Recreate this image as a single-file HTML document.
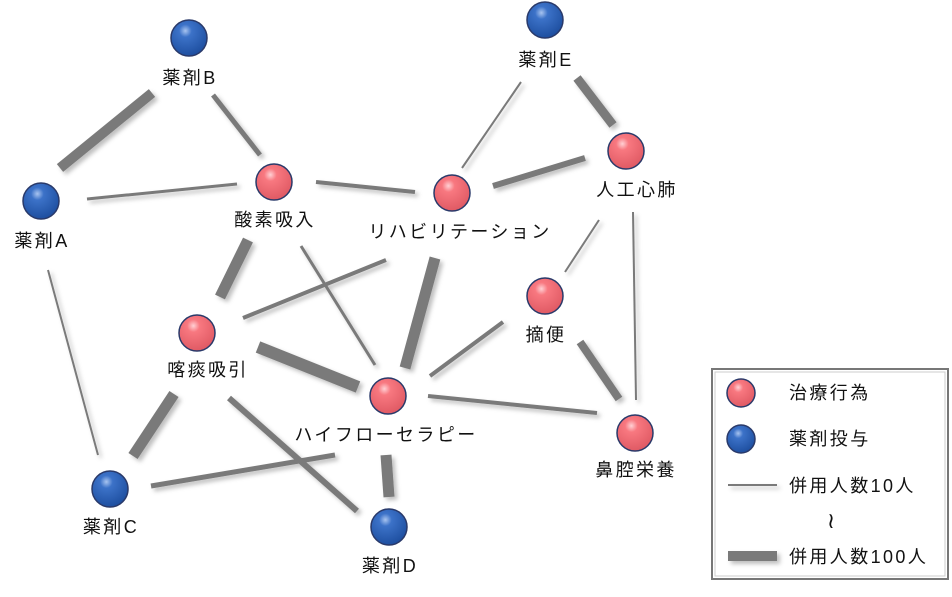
<!DOCTYPE html>
<html><head><meta charset="utf-8"><style>
body{margin:0;background:#fff;width:952px;height:592px;overflow:hidden}
text{font-family:"Liberation Sans","Noto Sans CJK JP",sans-serif;font-size:18px;letter-spacing:2.4px;fill:#111;text-anchor:middle}
</style></head><body>
<svg width="952" height="592" xmlns="http://www.w3.org/2000/svg">
<defs>
<radialGradient id="r" cx="40%" cy="30%" r="70%"><stop offset="0" stop-color="#ffd0d4"/><stop offset="0.25" stop-color="#f87880"/><stop offset="1" stop-color="#e05a64"/></radialGradient>
<radialGradient id="b" cx="40%" cy="30%" r="70%"><stop offset="0" stop-color="#a8c4f0"/><stop offset="0.25" stop-color="#3c72c8"/><stop offset="1" stop-color="#1e4fa0"/></radialGradient>
<filter id="s" x="-20%" y="-20%" width="140%" height="140%"><feDropShadow dx="3" dy="3" stdDeviation="2" flood-color="#000" flood-opacity="0.25"/></filter>
</defs>
<g stroke="#7a7a7a" stroke-linecap="butt" filter="url(#s)">
<line x1="152" y1="93" x2="60" y2="168" stroke-width="10"/>
<line x1="213" y1="95" x2="260" y2="155" stroke-width="5"/>
<line x1="87" y1="199" x2="237" y2="184" stroke-width="3"/>
<line x1="316" y1="182" x2="415" y2="192" stroke-width="4"/>
<line x1="521" y1="82" x2="462" y2="168" stroke-width="2"/>
<line x1="577" y1="78" x2="613" y2="125" stroke-width="9"/>
<line x1="493" y1="186" x2="585" y2="158" stroke-width="6"/>
<line x1="599" y1="220" x2="565" y2="272" stroke-width="2"/>
<line x1="633" y1="212" x2="636" y2="400" stroke-width="2"/>
<line x1="248" y1="240" x2="220" y2="297" stroke-width="11"/>
<line x1="301" y1="246" x2="375" y2="365" stroke-width="3"/>
<line x1="386" y1="260" x2="243" y2="318" stroke-width="4"/>
<line x1="435" y1="258" x2="405" y2="368" stroke-width="11"/>
<line x1="48" y1="270" x2="98" y2="455" stroke-width="2"/>
<line x1="258" y1="347" x2="358" y2="387" stroke-width="12"/>
<line x1="174" y1="394" x2="133" y2="456" stroke-width="11"/>
<line x1="229" y1="398" x2="357" y2="511" stroke-width="6"/>
<line x1="503" y1="322" x2="430" y2="376" stroke-width="4"/>
<line x1="580" y1="342" x2="619" y2="399" stroke-width="8"/>
<line x1="428" y1="396" x2="597" y2="413" stroke-width="4"/>
<line x1="335" y1="455" x2="151" y2="486" stroke-width="5"/>
<line x1="386" y1="455" x2="389" y2="497" stroke-width="11"/>
</g>
<g stroke="#2a3a6a" stroke-width="1.5">
<circle cx="189" cy="38" r="18" fill="url(#b)"/>
<circle cx="545" cy="20" r="18" fill="url(#b)"/>
<circle cx="41" cy="201" r="18" fill="url(#b)"/>
<circle cx="110" cy="489" r="18" fill="url(#b)"/>
<circle cx="389" cy="527" r="18" fill="url(#b)"/>
<circle cx="274" cy="182" r="18" fill="url(#r)"/>
<circle cx="452" cy="193" r="18" fill="url(#r)"/>
<circle cx="626" cy="151" r="18" fill="url(#r)"/>
<circle cx="545" cy="296" r="18" fill="url(#r)"/>
<circle cx="197" cy="333" r="18" fill="url(#r)"/>
<circle cx="388" cy="396" r="18" fill="url(#r)"/>
<circle cx="635" cy="433" r="18" fill="url(#r)"/>
</g>
<text x="190" y="84">薬剤B</text>
<text x="546" y="66">薬剤E</text>
<text x="42" y="247">薬剤A</text>
<text x="275" y="226">酸素吸入</text>
<text x="460" y="238">リハビリテーション</text>
<text x="637" y="196">人工心肺</text>
<text x="546" y="341">摘便</text>
<text x="208" y="376">喀痰吸引</text>
<text x="386" y="441">ハイフローセラピー</text>
<text x="636" y="476">鼻腔栄養</text>
<text x="111" y="533">薬剤C</text>
<text x="390" y="572">薬剤D</text>
<rect x="712" y="369" width="236" height="210" fill="#fff" stroke="#777" stroke-width="2"/>
<rect x="715" y="372" width="230" height="204" fill="none" stroke="#ccc" stroke-width="1"/>
<circle cx="741" cy="393" r="14" fill="url(#r)" stroke="#2a3a6a" stroke-width="1.5"/>
<circle cx="741" cy="439" r="14" fill="url(#b)" stroke="#2a3a6a" stroke-width="1.5"/>
<g stroke="#7a7a7a" filter="url(#s)">
<line x1="728" y1="485" x2="777" y2="485" stroke-width="2"/>
<line x1="728" y1="556" x2="777" y2="556" stroke-width="10"/>
</g>
<text x="789" y="399" style="text-anchor:start">治療行為</text>
<text x="789" y="445" style="text-anchor:start">薬剤投与</text>
<text x="789" y="492" style="text-anchor:start">併用人数10人</text>
<text x="831" y="528" style="text-anchor:middle;font-size:22px;letter-spacing:0">≀</text>
<text x="789" y="563" style="text-anchor:start">併用人数100人</text>
</svg>
</body></html>
